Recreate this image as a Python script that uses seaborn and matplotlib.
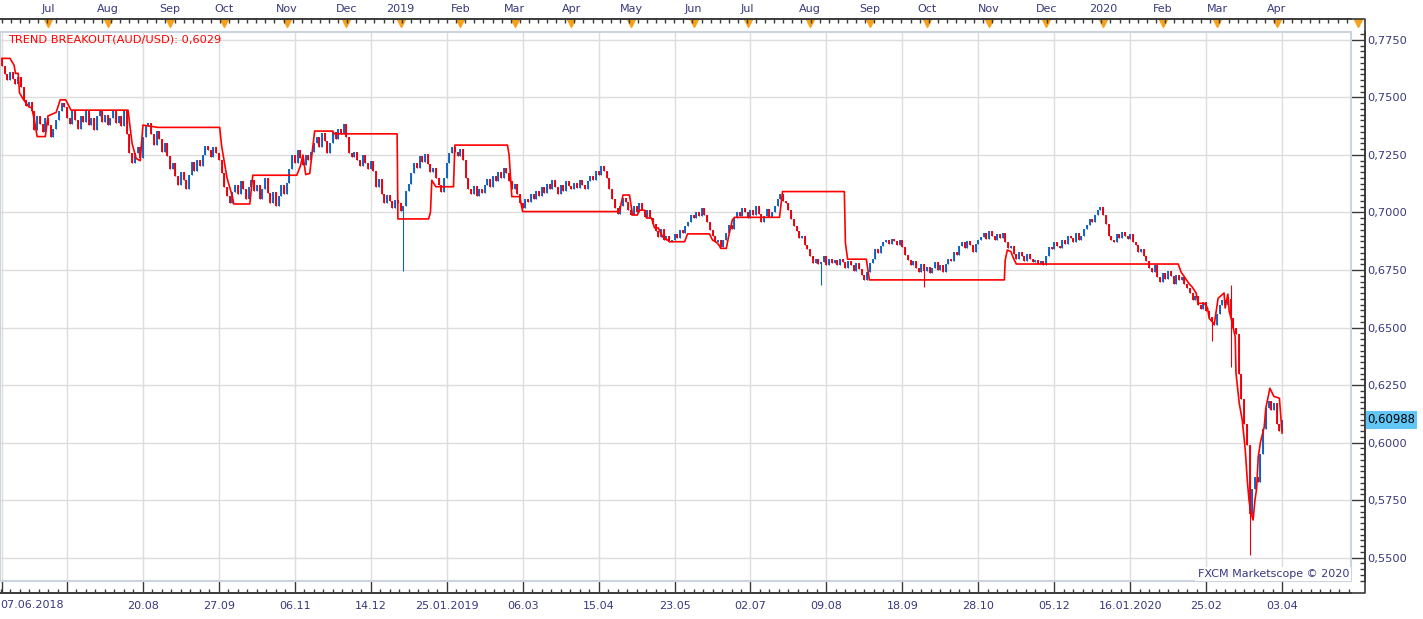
import numpy as np
import pandas as pd
import matplotlib
matplotlib.use('Agg')
import matplotlib.pyplot as plt
import matplotlib.transforms as mtransforms
from matplotlib.ticker import MultipleLocator, FixedLocator, FuncFormatter
from matplotlib.patches import Rectangle
from matplotlib.lines import Line2D
import seaborn as sns

#%% data (AUD/USD daily, FXCM Marketscope)
start_date = '2018-06-07'
end_date = '2020-04-03'
closed_days = ['2018-12-25', '2019-01-01', '2019-12-25', '2020-01-01']
first_open = 0.7670

close = [
    0.7635, 0.7600, 0.7575, 0.7610, 0.7580, 0.7560, 0.7590, 0.7545, 0.7490, 0.7465,
    0.7480, 0.7440, 0.7360, 0.7420, 0.7385, 0.7350, 0.7410, 0.7380, 0.7330, 0.7365,
    0.7400, 0.7440, 0.7475, 0.7460, 0.7410, 0.7385, 0.7440, 0.7400, 0.7365, 0.7420,
    0.7395, 0.7440, 0.7380, 0.7410, 0.7360, 0.7420, 0.7445, 0.7395, 0.7425, 0.7380,
    0.7410, 0.7440, 0.7390, 0.7420, 0.7375, 0.7445, 0.7340, 0.7260, 0.7215, 0.7260,
    0.7285, 0.7235, 0.7330, 0.7375, 0.7390, 0.7340, 0.7295, 0.7355, 0.7320, 0.7265,
    0.7300, 0.7245, 0.7190, 0.7215, 0.7160, 0.7120, 0.7175, 0.7140, 0.7100, 0.7165,
    0.7220, 0.7180, 0.7230, 0.7200, 0.7250, 0.7290, 0.7270, 0.7240, 0.7285, 0.7260,
    0.7230, 0.7170, 0.7110, 0.7070, 0.7040, 0.7090, 0.7120, 0.7080, 0.7135, 0.7100,
    0.7060, 0.7110, 0.7140, 0.7095, 0.7120, 0.7060, 0.7100, 0.7150, 0.7085, 0.7040,
    0.7090, 0.7030, 0.7070, 0.7120, 0.7080, 0.7130, 0.7190, 0.7250, 0.7215, 0.7270,
    0.7235, 0.7205, 0.7250, 0.7230, 0.7265, 0.7300, 0.7330, 0.7285, 0.7345, 0.7310,
    0.7260, 0.7300, 0.7350, 0.7320, 0.7365, 0.7340, 0.7385, 0.7330, 0.7260, 0.7240,
    0.7265, 0.7230, 0.7200, 0.7250, 0.7215, 0.7190, 0.7225, 0.7180, 0.7110, 0.7145,
    0.7080, 0.7040, 0.7075, 0.7050, 0.7020, 0.7055, 0.7040, 0.7005, 0.7030, 0.7095,
    0.7125, 0.7170, 0.7215, 0.7195, 0.7245, 0.7220, 0.7255, 0.7210, 0.7175, 0.7195,
    0.7150, 0.7120, 0.7090, 0.7150, 0.7215, 0.7260, 0.7285, 0.7265, 0.7245, 0.7275,
    0.7230, 0.7150, 0.7100, 0.7080, 0.7115, 0.7070, 0.7100, 0.7085, 0.7120, 0.7145,
    0.7110, 0.7160, 0.7135, 0.7175, 0.7150, 0.7195, 0.7170, 0.7135, 0.7100, 0.7125,
    0.7080, 0.7040, 0.7020, 0.7060, 0.7045, 0.7080, 0.7060, 0.7095, 0.7070, 0.7110,
    0.7085, 0.7125, 0.7100, 0.7140, 0.7110, 0.7080, 0.7120, 0.7095, 0.7135, 0.7115,
    0.7100, 0.7130, 0.7105, 0.7140, 0.7120, 0.7100, 0.7135, 0.7160, 0.7140, 0.7180,
    0.7165, 0.7200, 0.7180, 0.7150, 0.7100, 0.7060, 0.7020, 0.6995, 0.7030, 0.7065,
    0.7045, 0.7010, 0.6990, 0.7030, 0.7000, 0.7040, 0.7010, 0.6980, 0.7010, 0.6975,
    0.6950, 0.6920, 0.6895, 0.6930, 0.6880, 0.6900, 0.6870, 0.6880, 0.6905, 0.6890,
    0.6925, 0.6910, 0.6940, 0.6960, 0.6990, 0.6975, 0.7000, 0.6985, 0.7020, 0.6990,
    0.6960, 0.6925, 0.6900, 0.6870, 0.6880, 0.6850, 0.6880, 0.6910, 0.6945, 0.6930,
    0.6975, 0.7000, 0.6985, 0.7020, 0.7000, 0.6975, 0.7010, 0.6990, 0.7030, 0.6995,
    0.6960, 0.6985, 0.7015, 0.6980, 0.7000, 0.7030, 0.7060, 0.7080, 0.7050, 0.7040,
    0.7010, 0.6970, 0.6940, 0.6920, 0.6890, 0.6900, 0.6860, 0.6840, 0.6810, 0.6780,
    0.6800, 0.6775, 0.6785, 0.6810, 0.6770, 0.6800, 0.6780, 0.6795, 0.6770, 0.6800,
    0.6785, 0.6760, 0.6790, 0.6770, 0.6745, 0.6780, 0.6755, 0.6730, 0.6705, 0.6740,
    0.6780, 0.6800, 0.6840, 0.6825, 0.6855, 0.6870, 0.6880, 0.6865, 0.6885, 0.6875,
    0.6860, 0.6880, 0.6850, 0.6815, 0.6795, 0.6770, 0.6790, 0.6760, 0.6740, 0.6775,
    0.6745, 0.6765, 0.6735, 0.6760, 0.6785, 0.6750, 0.6770, 0.6740, 0.6775, 0.6800,
    0.6790, 0.6830, 0.6815, 0.6855, 0.6870, 0.6845, 0.6875, 0.6860, 0.6830, 0.6865,
    0.6880, 0.6895, 0.6910, 0.6885, 0.6920, 0.6900, 0.6880, 0.6905, 0.6890, 0.6910,
    0.6870, 0.6845, 0.6855, 0.6820, 0.6800, 0.6830, 0.6810, 0.6790, 0.6820, 0.6800,
    0.6785, 0.6795, 0.6775, 0.6790, 0.6770, 0.6810, 0.6850, 0.6840, 0.6870, 0.6855,
    0.6845, 0.6880, 0.6865, 0.6900, 0.6890, 0.6870, 0.6910, 0.6880, 0.6900, 0.6930,
    0.6945, 0.6970, 0.6960, 0.6990, 0.7010, 0.7025, 0.6990, 0.6950, 0.6900, 0.6880,
    0.6870, 0.6905, 0.6890, 0.6915, 0.6900, 0.6885, 0.6905, 0.6870, 0.6860, 0.6830,
    0.6840, 0.6810, 0.6790, 0.6760, 0.6740, 0.6770, 0.6720, 0.6700, 0.6735, 0.6710,
    0.6745, 0.6725, 0.6690, 0.6730, 0.6705, 0.6720, 0.6690, 0.6670, 0.6650, 0.6620,
    0.6635, 0.6600, 0.6580, 0.6610, 0.6570, 0.6545, 0.6525, 0.6510, 0.6560, 0.6600,
    0.6620, 0.6600, 0.6625, 0.6540, 0.6500, 0.6470, 0.6300, 0.6190, 0.6080, 0.5990,
    0.5690, 0.5800, 0.5850, 0.5830, 0.5950, 0.6060, 0.6150, 0.6180, 0.6140, 0.6170,
    0.6080, 0.6050, 0.6099,
]

# long shadows that stick out of the bodies (bar number, price)
low_spike_bar = [148, 302, 340, 446, 453, 460]
low_spike_val = [0.6745, 0.6685, 0.6676, 0.6440, 0.6330, 0.5510]
high_spike_bar = [453]
high_spike_val = [0.6685]

# trend breakout indicator, vertices (bar number, level)
line_pos = [-0.5, 3, 4.5, 5, 6, 6.5, 8, 10, 11, 12, 13, 16, 17, 20, 21.5, 23.5, 25.5, 46.5,
            48, 49.5, 51, 52, 57.5, 80.3, 81, 83, 85, 85.5, 91.4, 92.5, 108.7, 110, 111,
            112, 113.5, 115.3, 122, 122.5, 145.7, 145.8, 146, 157.3, 158, 158.5, 160,
            166.5, 167, 186.4, 187, 188, 190.9, 192, 227.7, 229, 231.4, 232.5, 234.3,
            235, 237, 237.7, 239.5, 240.6, 242, 243.6, 246.2, 251.7, 252.8, 260.9, 262,
            263.5, 264.6, 265, 267.1, 268, 269.3, 270.1, 286.7, 287.8, 310.6, 311, 311.8,
            318.7, 319.3, 319.8, 369.6, 369.9, 370.7, 372, 373, 374, 433.7, 434.8, 436,
            437.7, 438.8, 440.3, 441, 443.3, 444.5, 445.1, 447, 448.4, 450.6, 451, 452,
            452.5, 453.5, 454.7, 455, 456.2, 457.3, 458.4, 459.2, 459.8, 460.3, 461.3,
            462, 462.6, 463.2, 464, 465.4, 466, 467.5, 469, 471, 472]
line_val = [0.7670, 0.7670, 0.7640, 0.7605, 0.7605, 0.7520, 0.7490, 0.7459, 0.7455, 0.7400,
            0.7330, 0.7330, 0.7420, 0.7435, 0.7490, 0.7490, 0.7445, 0.7445,
            0.7300, 0.7235, 0.7225, 0.7380, 0.7370, 0.7370, 0.7290, 0.7150, 0.7068, 0.7037,
            0.7037, 0.7162, 0.7162, 0.7200, 0.7250,
            0.7165, 0.7170, 0.7354, 0.7354, 0.7342, 0.7342, 0.7243, 0.6972, 0.6972, 0.7000,
            0.7140, 0.7112,
            0.7112, 0.7293, 0.7293, 0.7250, 0.7069, 0.7069, 0.7004, 0.7004, 0.7076, 0.7076,
            0.6989, 0.6989,
            0.7010, 0.7010, 0.6976, 0.6976, 0.6933, 0.6933, 0.6895, 0.6873, 0.6873, 0.6907,
            0.6907, 0.6880,
            0.6870, 0.6855, 0.6844, 0.6844, 0.6900, 0.6967, 0.6979, 0.6979, 0.7091, 0.7091,
            0.6867, 0.6797,
            0.6797, 0.6750, 0.6707, 0.6707, 0.6793, 0.6837, 0.6830, 0.6800, 0.6776, 0.6776,
            0.6740, 0.6720,
            0.6690, 0.6677, 0.6650, 0.6605, 0.6605, 0.6585, 0.6540, 0.6515, 0.6627, 0.6650,
            0.6585, 0.6645,
            0.6570, 0.6525, 0.6460, 0.6302, 0.6170, 0.6098, 0.5970, 0.5830, 0.5750, 0.5707,
            0.5663,
            0.5750, 0.5800, 0.5938, 0.6000, 0.6068, 0.6150, 0.6236, 0.6200, 0.6193, 0.6040]

last_price = 0.60988
indicator_label = 'TREND BREAKOUT(AUD/USD): 0,6029'
footer = 'FXCM Marketscope \u00a9 2020'

#%% build the frame
dates = pd.bdate_range(start_date, end_date)
dates = dates[~dates.isin(pd.to_datetime(closed_days))]

df = pd.DataFrame({'date': dates, 'close': close})
df['pos'] = np.arange(len(df))
df['open'] = df['close'].shift(1).fillna(first_open)
df['high'] = df[['open', 'close']].max(axis=1)
df['low'] = df[['open', 'close']].min(axis=1)
df.loc[low_spike_bar, 'low'] = low_spike_val
df.loc[high_spike_bar, 'high'] = high_spike_val
df['up'] = df['close'] >= df['open']

#%% style
sns.set_theme(style='white')
plt.rcParams['font.family'] = ['DejaVu Sans']
navy = '#38387e'
dark = '#3a3a3a'
blue = '#0d62c4'
red = '#e8000c'

W, H = 1423, 619
fig = plt.figure(figsize=(W / 100, H / 100), dpi=100)
# plot area in pixels: x 0..1351, y 31.7..581
ax = fig.add_axes([0, (H - 581) / H, 1351 / W, (581 - 31.7) / H])
ax.set_facecolor('white')

colors = np.where(df['up'], blue, red)
ax.vlines(df['pos'], df['low'], df['high'], colors=colors, lw=0.8, zorder=3)
ax.vlines(df['pos'], df['open'], df['close'], colors=colors, lw=1.35, zorder=3)

sns.lineplot(x=line_pos, y=line_val, ax=ax, color='#ff0000', lw=1.2,
             estimator=None, sort=False, zorder=4)

ax.set_xlim(-0.7, 497.4)
ax.set_ylim(0.5398, 0.7786)
ax.set_xlabel('')
ax.set_ylabel('')

# bottom axis: date labels every 28 bars (first one is written separately)
tick_pos = [0] + list(range(24, len(df), 28))
tick_lab = []
prev_year = df['date'].iloc[0].year
for k, p in enumerate(tick_pos):
    d = df['date'].iloc[p]
    if k < 2:
        tick_lab.append('')
        continue
    if prev_year != d.year:
        tick_lab.append(d.strftime('%d.%m.%Y'))
    else:
        tick_lab.append(d.strftime('%d.%m'))
    prev_year = d.year
ax.xaxis.set_major_locator(FixedLocator(tick_pos))
ax.set_xticklabels(tick_lab)
ax.xaxis.set_minor_locator(MultipleLocator(3.5, offset=3.0))
ax.tick_params(axis='x', which='major', direction='in', length=8.6, width=1,
               color=dark, labelsize=8, labelcolor=navy, pad=5.5)
ax.tick_params(axis='x', which='minor', direction='in', length=2.8, width=1, color=dark)
fig.text(0.0, 1 - 605 / H, df['date'].iloc[0].strftime('%d.%m.%Y'), color=navy,
         fontsize=8, ha='left', va='center')

# right price axis
ax.yaxis.tick_right()
ax.yaxis.set_major_locator(MultipleLocator(0.025))
ax.yaxis.set_minor_locator(MultipleLocator(0.0025))
ax.yaxis.set_major_formatter(FuncFormatter(lambda v, _: f'{v:.4f}'.replace('.', ',')))
ax.tick_params(axis='y', which='major', direction='in', length=10, width=1,
               color=dark, labelsize=8.2, labelcolor=navy, pad=2)
ax.tick_params(axis='y', which='minor', direction='in', length=3.6, width=1, color=dark)

ax.grid(True, which='major', color='#dddddd', lw=1)
ax.set_axisbelow(True)

for s in ['left', 'top']:
    ax.spines[s].set_visible(False)
ax.spines['bottom'].set_position(('outward', 8.6))
ax.spines['right'].set_position(('outward', 10))
for s in ['bottom', 'right']:
    ax.spines[s].set_color(dark)
    ax.spines[s].set_linewidth(1.2)

# light frame around the plot area
ax.add_patch(Rectangle((0, 0), 1, 1, transform=ax.transAxes, fill=False,
                       ec='#cbd3de', lw=1.5, zorder=5, clip_on=False))

# top axis: month starts
month_start = df['date'].dt.month != df['date'].dt.month.shift()
month_start.iloc[0] = False
mdf = df[month_start]
month_lab = [str(d.year) if d.month == 1 else d.strftime('%b') for d in mdf['date']]

ax_top = ax.twiny()
ax_top.set_xlim(ax.get_xlim())
ax_top.xaxis.set_major_locator(FixedLocator(mdf['pos'].tolist()))
ax_top.set_xticklabels(month_lab)
ax_top.xaxis.set_minor_locator(MultipleLocator(3.35))
ax_top.tick_params(axis='x', which='major', direction='in', length=0,
                   labelsize=8, labelcolor=navy, pad=4)
ax_top.tick_params(axis='x', which='minor', direction='in', length=2.8, width=1, color=dark)
for s in ['left', 'right', 'bottom']:
    ax_top.spines[s].set_visible(False)
ax_top.spines['top'].set_position(('outward', 9.1))
ax_top.spines['top'].set_color(dark)
ax_top.spines['top'].set_linewidth(1.2)

trans = mtransforms.blended_transform_factory(ax.transData, ax.transAxes)
ax.plot(mdf['pos'], np.full(len(mdf), 1.0158), transform=trans, ls='none', marker='v',
        ms=6, color='#f7a11a', clip_on=False, zorder=6)
ax.plot([1.0052], [1.0158], transform=ax.transAxes, ls='none', marker='v', ms=6,
        color='#f7a11a', clip_on=False, zorder=6)

# outer dark frame (top line, right line, bottom line)
frame_x = np.array([0, 1365, 1365, 0]) / W
frame_y = 1 - np.array([19, 19, 593, 593]) / H
fig.add_artist(Line2D(frame_x, frame_y, color=dark, lw=1.2))

# texts
ax.text(8 / 1351, 1 - (40 - 31.7) / 549.3, indicator_label, transform=ax.transAxes,
        color='#ff0000', fontsize=8.2, va='center', ha='left')
ax.text(0.9985, (581 - 574) / 549.3, footer, transform=ax.transAxes, color=navy,
        fontsize=8, va='center', ha='right',
        bbox=dict(fc='white', ec='none', pad=1.5), zorder=6)
ytrans = mtransforms.blended_transform_factory(ax.transAxes, ax.transData)
ax.text(1367 / 1351, last_price, f'{last_price:.5f}'.replace('.', ','), transform=ytrans,
        color='black', fontsize=8.4, va='center', ha='left',
        bbox=dict(fc='#62c6f5', ec='none', pad=1.8), zorder=7, clip_on=False)

fig.savefig('out.png', dpi=100, facecolor='white')
